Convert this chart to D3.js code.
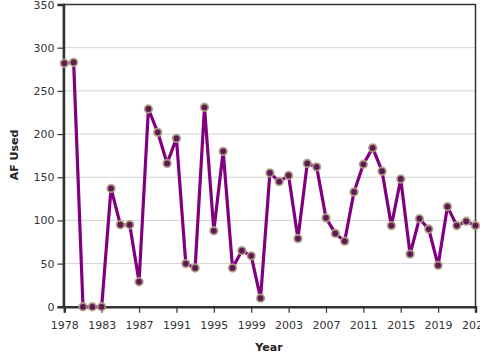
<!DOCTYPE html>
<html><head><meta charset="utf-8">
<script src="https://cdn.jsdelivr.net/npm/d3@7"></script>
<style>
html,body{margin:0;padding:0;background:#fff;}
svg{display:block;font-family:"DejaVu Sans",Verdana,sans-serif;}
</style></head>
<body>
<svg id="chart" width="480" height="360"></svg>
<script>
const years = d3.range(1978, 2023);
const afUsed = [282, 283, 0, 0, 0, 137, 95, 95, 29, 229, 202, 166, 195, 50, 45, 231, 88, 180, 45, 65, 59, 10, 155, 145, 152, 79, 166, 162, 103, 85, 76, 133, 165, 184, 157, 94, 148, 61, 102, 90, 48, 116, 94, 99, 94];
const xTickValues = [1978, 1982, 1986, 1990, 1994, 1998, 2002, 2006, 2010, 2014, 2018, 2022];
const xTickLabels = ["1978", "1983", "1987", "1991", "1995", "1999", "2003", "2007", "2011", "2015", "2019", "2023"];
const yTickValues = [0, 50, 100, 150, 200, 250, 300, 350];

const data = years.map((y, i) => ({year: y, value: afUsed[i]}));
const svg = d3.select("#chart");
const m = {left: 63.5, right: 475.5, top: 4.5, bottom: 306.8};

const x = d3.scaleLinear().domain([1978, 2022]).range([m.left + 0.8, m.right]);
const y = d3.scaleLinear().domain([0, 350]).range([m.bottom, m.top]);

// grid
svg.append("g").selectAll("line").data(yTickValues.filter(v => v > 0)).join("line")
  .attr("x1", m.left).attr("x2", m.right)
  .attr("y1", d => y(d)).attr("y2", d => y(d))
  .attr("stroke", "#d4d4d4").attr("stroke-width", 1);

// frame
svg.append("rect").attr("x", m.left).attr("y", m.top)
  .attr("width", m.right - m.left).attr("height", m.bottom - m.top)
  .attr("fill", "none").attr("stroke", "#333").attr("stroke-width", 1.5);

// axes
const yAxis = svg.append("g").attr("transform", `translate(${m.left},0)`)
  .call(d3.axisLeft(y).tickValues(yTickValues).tickSize(6).tickPadding(3));
const xAxis = svg.append("g").attr("transform", `translate(0,${m.bottom})`)
  .call(d3.axisBottom(x).tickValues(xTickValues).tickSize(6).tickPadding(8)
    .tickFormat((d, i) => xTickLabels[i]));
[yAxis, xAxis].forEach(a => {
  a.select(".domain").attr("stroke", "#333").attr("stroke-width", 2.5);
  a.selectAll(".tick line").attr("stroke", "#333").attr("stroke-width", 1.2);
  a.selectAll(".tick text").attr("fill", "#333").style("font-size", "11px")
    .style("font-family", "DejaVu Sans, sans-serif");
});

// line
svg.append("path").datum(data)
  .attr("fill", "none").attr("stroke", "#800080").attr("stroke-width", 3.2)
  .attr("stroke-linejoin", "round")
  .attr("d", d3.line().x(d => x(d.year)).y(d => y(d.value)));

// points
svg.append("g").selectAll("circle").data(data).join("circle")
  .attr("cx", d => x(d.year)).attr("cy", d => y(d.value)).attr("r", 3.8)
  .attr("fill", "#5e1a55").attr("stroke", "#b3a283").attr("stroke-opacity", 0.9)
  .attr("stroke-width", 1.8);

// labels
svg.append("text").attr("x", 269).attr("y", 351).attr("text-anchor", "middle")
  .style("font-size", "11px").style("font-weight", "bold").attr("fill", "#222").text("Year");
svg.append("text").attr("transform", "translate(18,155) rotate(-90)").attr("text-anchor", "middle")
  .style("font-size", "11px").style("font-weight", "bold").attr("fill", "#222").text("AF Used");
</script>
</body></html>
